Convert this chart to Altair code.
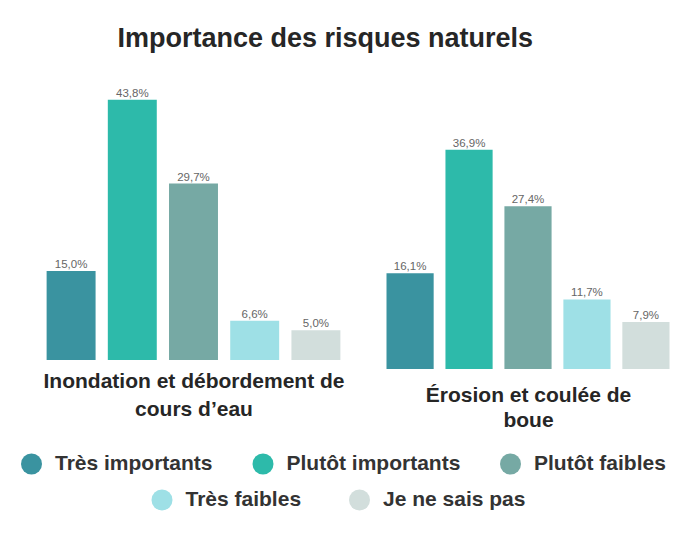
import altair as alt
import pandas as pd

categories = ["Très importants", "Plutôt importants", "Plutôt faibles", "Très faibles", "Je ne sais pas"]
colors = ["#3A93A0", "#2DBAAA", "#76A9A4", "#9EE0E6", "#D2DEDC"]
inondation_values = [15.0, 43.8, 29.7, 6.6, 5.0]
erosion_values = [16.1, 36.9, 27.4, 11.7, 7.9]
inondation_title = ["Inondation et débordement de", "cours d’eau"]
erosion_title = ["Érosion et coulée de", "boue"]
chart_title = "Importance des risques naturels"

FONT = "Liberation Sans"


def make_df(values):
    return pd.DataFrame({
        "categorie": categories,
        "valeur": values,
        "etiquette": [f"{v:.1f}%".replace(".", ",") for v in values],
    })


fill_scale = alt.Scale(domain=categories, range=colors)

legend_common = dict(
    title=None, orient="none", direction="horizontal", symbolType="circle", symbolOpacity=1,
    symbolSize=441, symbolStrokeWidth=0,
    labelFont=FONT, labelFontSize=21, labelFontWeight="bold", labelColor="#333333",
    labelOffset=13, labelLimit=300,
)


def panel(df, title_lines, ymax, width, height, padding_outer, line_height, title_pad,
          legend_cats, legend_x, legend_y, col_pad, title_x=None):
    axis_kw = dict(
        title=title_lines, labels=False, ticks=False, domain=False, grid=False,
        titleFont=FONT, titleFontSize=21, titleFontWeight="bold", titleColor="#262626",
        titleLineHeight=line_height, titlePadding=title_pad,
    )
    if title_x is not None:
        axis_kw["titleX"] = title_x
    base = alt.Chart(df).encode(
        x=alt.X(
            "categorie:N",
            sort=categories,
            scale=alt.Scale(domain=categories, paddingInner=0.2, paddingOuter=padding_outer),
            axis=alt.Axis(**axis_kw),
        ),
        y=alt.Y("valeur:Q", scale=alt.Scale(domain=[0, ymax]), axis=None),
    )
    bars = base.mark_bar().encode(fill=alt.Fill("categorie:N", scale=fill_scale, legend=None))
    labels = base.mark_text(
        baseline="alphabetic", dy=-3, font=FONT, fontSize=11.5, color="#666666"
    ).encode(text="etiquette:N")
    idx = [categories.index(c) for c in legend_cats]
    legend_layer = base.transform_filter(
        alt.FieldOneOfPredicate(field="categorie", oneOf=legend_cats)
    ).mark_circle(opacity=0).encode(
        color=alt.Color(
            "categorie:N",
            scale=alt.Scale(domain=legend_cats, range=[colors[i] for i in idx]),
            legend=alt.Legend(legendX=legend_x, legendY=legend_y, columnPadding=col_pad,
                              **legend_common),
        )
    )
    return alt.layer(bars, labels, legend_layer).properties(width=width, height=height)


c1 = panel(make_df(inondation_values), inondation_title, 50, 306, 297, 0.1, 28, 10,
           categories[:3], -19.5, 390.5, 39.5)
c2 = panel(make_df(erosion_values), erosion_title, 51.5, 283, 306, 0, 25, 15,
           categories[3:], -235, 426.5, 47.5, title_x=141.5)

chart = alt.hconcat(c1, c2, spacing=40, bounds="flush").resolve_scale(
    x="independent", y="independent", color="independent"
).properties(
    title=alt.TitleParams(
        text=chart_title, font=FONT, fontSize=27, fontWeight="bold", color="#262626",
        anchor="start", frame="group", dx=77, offset=10,
    ),
    padding={"left": 12.5, "top": 17, "right": 0, "bottom": 0},
    background="white",
).configure_view(strokeWidth=0)

chart.save("out.html", embed_options={"renderer": "svg", "actions": False})
